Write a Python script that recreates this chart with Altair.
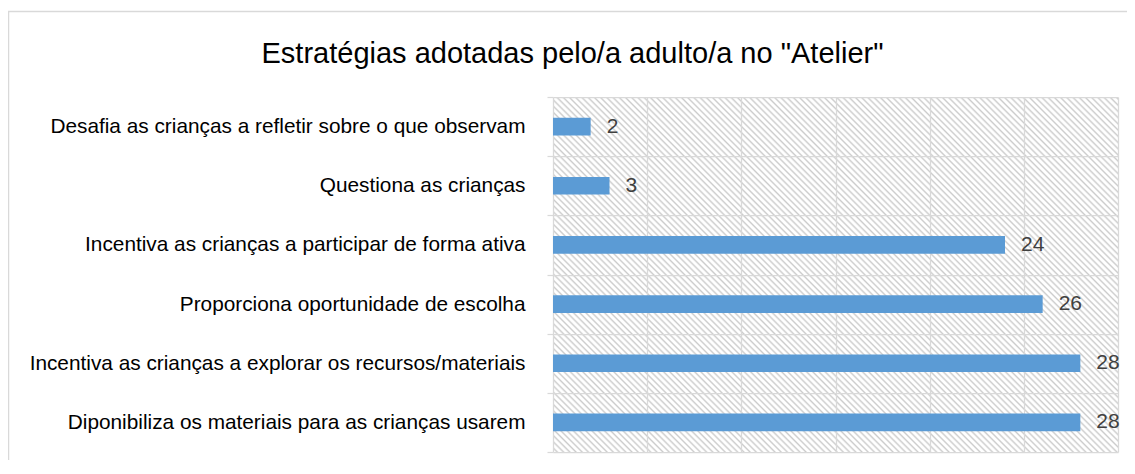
import altair as alt
import pandas as pd

categories = [
    "Desafia as crianças a refletir sobre o que observam",
    "Questiona as crianças",
    "Incentiva as crianças a participar de forma ativa",
    "Proporciona oportunidade de escolha",
    "Incentiva as crianças a explorar os recursos/materiais",
    "Diponibiliza os materiais para as crianças usarem",
]
values = [2, 3, 24, 26, 28, 28]
x_grid = [0, 5, 10, 15, 20, 25, 30]
title_text = 'Estratégias adotadas pelo/a adulto/a no "Atelier"'

df = pd.DataFrame({"cat": categories, "val": values})

W, H = 565, 355
FONT = "Liberation Sans"
GRID = "#D9D9D9"
BAR = "#5B9BD5"

# diagonal hatch background (style only) built as a striped linear gradient
r = H / W
s = (1 + r) / (1 + r * r)
N = 148
stops = []
for k in range(N):
    for frac, col in [(0.0, "#ffffff"), (0.36, "#ffffff"), (0.7, "#cccccc")]:
        stops.append("{offset: %.6f, color: '%s'}" % ((k + frac) / N, col))
stops.append("{offset: 1, color: '#ffffff'}")
hatch = "{gradient: 'linear', x1: 0, y1: 1, x2: %.6f, y2: %.6f, stops: [%s]}" % (
    s, 1 - r * s, ", ".join(stops))

y_enc = alt.Y(
    "cat:N",
    sort=None,
    scale=alt.Scale(paddingInner=0, paddingOuter=0),
    axis=alt.Axis(
        title=None,
        domain=False,
        ticks=True,
        tickSize=6,
        tickColor=GRID,
        tickWidth=1.25,
        tickBand="extent",
        grid=True,
        gridColor=GRID,
        gridWidth=1.25,
        labelFont=FONT,
        labelFontSize=20.8,
        labelColor="#000000",
        labelPadding=22,
        labelLimit=700,
    ),
)
x_enc = alt.X(
    "val:Q",
    scale=alt.Scale(domain=[0, 30], nice=False, zero=True),
    axis=alt.Axis(
        values=x_grid,
        labels=False,
        ticks=False,
        domain=False,
        grid=True,
        gridColor=GRID,
        gridWidth=1.25,
        title=None,
    ),
)

bars = alt.Chart(df).mark_bar(size=17.7, color=BAR).encode(x=x_enc, y=y_enc)

text = alt.Chart(df).mark_text(
    align="left", baseline="middle", dx=16, font=FONT, fontSize=21, color="#404040"
).encode(x=alt.X("val:Q"), y=alt.Y("cat:N", sort=None), text=alt.Text("val:Q"))

border = alt.Chart(pd.DataFrame({"k": [0]})).mark_rect(
    filled=False, stroke=GRID, strokeWidth=1.5
).encode(
    x=alt.value(-544.5), x2=alt.value(800), y=alt.value(-85.5), y2=alt.value(700)
)

chart = alt.layer(border, bars, text).properties(
    width=W,
    height=H,
    autosize=alt.AutoSizeParams(type="none"),
    padding={"left": 545, "top": 89, "right": 9, "bottom": 8},
    view=alt.ViewBackground(fill=alt.ExprRef(expr=hatch), stroke="transparent"),
    title=alt.TitleParams(
        text=title_text,
        font=FONT,
        fontSize=29,
        fontWeight="normal",
        color="#000000",
        anchor="middle",
        frame="group",
        baseline="alphabetic",
        dx=-263,
        offset=-81,
    ),
).configure(background="white")

chart.save("out.html", embed_options={"renderer": "svg", "actions": False})
